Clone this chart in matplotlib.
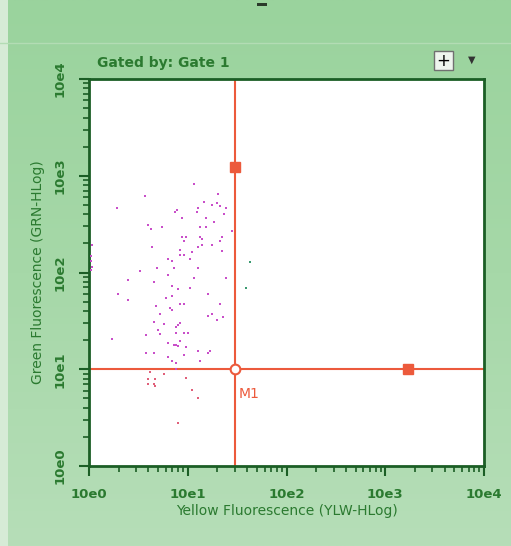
import numpy as np
import matplotlib
matplotlib.use("Agg")
import matplotlib.pyplot as plt
from matplotlib.patches import Rectangle
from matplotlib.colors import LinearSegmentedColormap

# ---- data ----
pink_x = [11.66, 3.69, 1.91, 20.4, 14.6, 17.7, 19.9, 21.4, 24.2, 12.8, 12.3, 7.72, 7.43, 8.81, 15.3,
          23.3, 18.6, 3.99, 4.21, 5.53, 13.3, 15.3, 27.8, 8.81, 9.6, 13.3, 14.1, 22.4, 9.16, 21.2,
          17.7, 14.1, 12.8, 4.38, 1.08, 8.35, 10.96, 22.1, 1.04, 8.35, 9.2, 6.36, 6.98, 10.5, 1.04,
          1.08, 1.04, 4.84, 7.31, 12.8, 3.31, 6.36, 2.50, 11.6, 24.2, 4.59, 6.98, 8.03, 10.5, 1.98,
          6.95, 6.07, 15.9, 2.50, 8.35, 9.16, 4.80, 21.2, 6.61, 6.98, 5.24, 15.9, 17.7, 22.9, 20.0,
          4.59, 5.79, 5.04, 7.65, 8.03, 8.35, 5.24, 9.16, 9.98, 7.65, 3.81, 1.70, 8.35, 6.36, 7.31,
          7.65, 8.03, 9.6, 12.6, 15.9, 16.7, 3.81, 4.59, 9.16, 6.25, 6.90, 7.65, 13.3, 7.65]
pink_y = [815, 623, 468, 648, 535, 495, 527, 487, 468, 468, 422, 443, 422, 369, 369,
          405, 335, 310, 279, 293, 293, 293, 266, 231, 231, 231, 222, 231, 210, 210,
          192, 192, 182, 184, 192, 171, 162, 167, 148, 153, 152, 139, 133, 139, 132,
          114, 106, 110, 110, 110, 104, 95, 83, 87, 87, 80, 72, 68, 68.5, 59.5,
          57.2, 54.5, 59.5, 52, 47.3, 47.3, 45.4, 47.3, 43.3, 41.3, 37.5, 35.8, 37.5, 34.7, 32.5,
          31.0, 29.6, 25.7, 27.1, 28.4, 29.8, 23.3, 23.5, 23.5, 23.5, 22.6, 20.5, 19.7, 18.7, 17.7,
          17.7, 17.3, 16.9, 15.4, 14.7, 15.3, 14.8, 14.8, 14.1, 13.5, 12.3, 11.7, 12.3, 9.98]
low_x = [4.15, 5.79, 3.93, 4.66, 3.93, 4.55, 4.66, 9.6, 10.96, 12.6, 7.91]
low_y = [9.3, 8.93, 7.87, 7.87, 7.04, 7.0, 6.71, 8.12, 6.10, 5.05, 2.76]
green_x = [42.4, 38.6]
green_y = [127, 69.2]
gate_x = 30
gate_y = 10
handle1 = (30, 1230)
handle2 = (1700, 10)
ticks = [1, 10, 100, 1000, 10000]
tick_labels = ["10e0", "10e1", "10e2", "10e3", "10e4"]

# ---- style ----
TXT = "#2b7a30"
AX = "#1b5e25"
RED = "#ec5a3c"
PINK = "#c94fc9"
TEAL = "#3a9a70"

fig = plt.figure(figsize=(5.11, 5.46), dpi=100)

# background gradient
bg = fig.add_axes([0, 0, 1, 1], zorder=-10)
grad = np.linspace(0, 1, 256)[:, None]
cmap = LinearSegmentedColormap.from_list("g", ["#b6deb8", "#a6d8a8", "#9ad39d"])
bg.imshow(grad, aspect="auto", cmap=cmap, extent=[0, 1, 0, 1], origin="lower")
bg.add_patch(Rectangle((0, 0), 0.016, 1, color="#d6ebd6", lw=0))
bg.axhline(1 - 43 / 546, color="#b3dcb4", lw=1)
bg.set_xlim(0, 1); bg.set_ylim(0, 1)
bg.axis("off")

ax = fig.add_axes([89 / 511, 80 / 546, 395 / 511, 387 / 546])
ax.set_facecolor("white")
ax.set_xscale("log"); ax.set_yscale("log")
ax.set_xlim(1, 10000); ax.set_ylim(1, 10000)

ax.axvline(gate_x, color=RED, lw=1.5, zorder=2)
ax.axhline(gate_y, color=RED, lw=1.5, zorder=2)

ax.scatter(pink_x, pink_y, s=4, marker="s", color=PINK, lw=0, zorder=3)
ax.scatter(low_x, low_y, s=4, marker="s", color="#e0607a", lw=0, zorder=3)
ax.scatter(green_x, green_y, s=4, marker="s", color=TEAL, lw=0, zorder=3)

ax.plot([handle1[0]], [handle1[1]], marker="s", ms=6.5, color=RED, zorder=4)
ax.plot([handle2[0]], [handle2[1]], marker="s", ms=6.5, color=RED, zorder=4)
ax.plot([gate_x], [gate_y], marker="o", ms=7, mfc="white", mec=RED, mew=1.5, zorder=5)
ax.text(33, 5.6, "M1", color=RED, fontsize=10, ha="left", va="center")

for s in ax.spines.values():
    s.set_color(AX); s.set_linewidth(2)
ax.set_xticks(ticks); ax.set_yticks(ticks)
ax.set_xticklabels(tick_labels); ax.set_yticklabels(tick_labels, rotation=90, va="center")
ax.tick_params(which="major", length=7, width=1.5, color=AX, labelcolor=TXT, labelsize=9.5)
ax.tick_params(axis="x", which="major", pad=9)
ax.tick_params(axis="y", which="major", pad=9)
ax.tick_params(which="minor", length=4, width=1.2, color=AX)
for lab in ax.get_xticklabels() + ax.get_yticklabels():
    lab.set_fontweight("bold")
ax.set_xlabel("Yellow Fluorescence (YLW-HLog)", color=TXT, fontsize=10, labelpad=2)
ax.set_ylabel("Green Fluorescence (GRN-HLog)", color=TXT, fontsize=10, labelpad=6)

fig.text(97 / 511, 1 - 63 / 546, "Gated by: Gate 1", color=TXT, fontsize=10,
         ha="left", va="center", fontweight="bold")
# toolbar widgets
bg.add_patch(Rectangle((434 / 511, 1 - 70 / 546), 19 / 511, 19 / 546, facecolor="#eef5ee",
                       edgecolor="#707070", lw=1))
bg.text(443.5 / 511, 1 - 60.5 / 546, "+", fontsize=12, ha="center", va="center", color="black")
bg.text(472 / 511, 1 - 60 / 546, "\u25bc", fontsize=7, ha="center", va="center", color="#333333")
bg.add_patch(Rectangle((257 / 511, 1 - 6 / 546), 10 / 511, 3 / 546, color="#2a3a2a", lw=0))

fig.savefig("out.png", dpi=100)
